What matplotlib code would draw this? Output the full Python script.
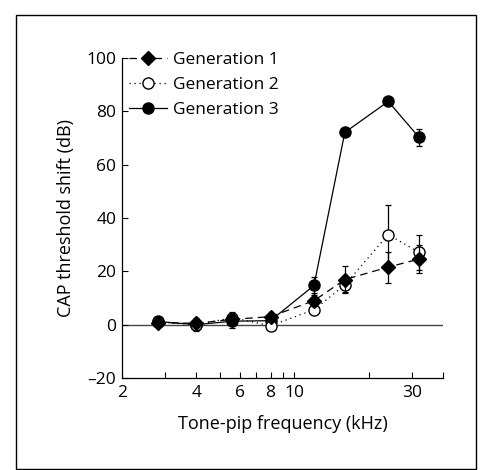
import matplotlib
matplotlib.use("Agg")
import matplotlib.pyplot as plt
from matplotlib.patches import Rectangle
from matplotlib.lines import Line2D
from matplotlib.ticker import FixedLocator, NullFormatter, FixedFormatter

plt.rcParams['font.family'] = ['Open Sans', 'DejaVu Sans']

freqs = [2.8, 4, 5.6, 8, 12, 16, 24, 32]
gen1 = [0.8, 0.5, 2.0, 3.0, 9.0, 16.9, 21.6, 24.6]
gen1_err = [1.0, 1.5, 1.5, 1.5, 2.0, 5.0, 5.8, 5.4]
gen2 = [1.0, 0.0, 2.6, -0.4, 5.6, 14.9, 33.8, 27.1]
gen2_err = [1.0, 1.5, 2.0, 1.5, 1.5, 2.5, 11.0, 6.6]
gen3 = [1.2, 0.0, 1.3, 1.5, 14.7, 72.1, 83.7, 70.2]
gen3_err = [1.0, 2.5, 2.5, 1.5, 3.0, 1.5, 1.0, 3.3]

labels = ["Generation 1", "Generation 2", "Generation 3"]
xticks_major = [2, 4, 6, 8, 10, 30]
xticks_minor = [3, 5, 7, 9, 20, 40]
yticks = [-20, 0, 20, 40, 60, 80, 100]

fig = plt.figure(figsize=(4.81, 4.70), dpi=100)
fig.patches.append(Rectangle((16/481, 1-469/470), 460/481, 454/470, transform=fig.transFigure,
                             fill=False, edgecolor='black', lw=1.0))
ax = fig.add_axes([122/481, 1-378/470, (443-122)/481, (378-58)/470])

ax.axhline(0, color='#444444', lw=1.0, zorder=1)

styles = [
    dict(fmt='D', ls=(0, (6, 4)), mfc='black', ms=7.5),
    dict(fmt='o', ls=(0, (1, 3)), mfc='white', ms=8),
    dict(fmt='o', ls='-', mfc='black', ms=8),
]
series = [(gen1, gen1_err), (gen2, gen2_err), (gen3, gen3_err)]
zs = [5, 4, 3]
for (vals, errs), st, z in zip(series, styles, zs):
    ax.errorbar(freqs, vals, yerr=errs, fmt=st['fmt'], ls=st['ls'], mfc=st['mfc'], mec='black',
                markersize=st['ms'], color='black', lw=0.9, capsize=2.5, elinewidth=0.9,
                capthick=0.9, zorder=z)

ax.set_xscale('log')
ax.set_xlim(2, 40)
ax.set_ylim(-20, 100)
ax.xaxis.set_major_locator(FixedLocator(xticks_major))
ax.xaxis.set_major_formatter(FixedFormatter([str(t) for t in xticks_major]))
ax.xaxis.set_minor_locator(FixedLocator(xticks_minor))
ax.xaxis.set_minor_formatter(NullFormatter())
ax.set_yticks(yticks)
ax.set_yticklabels(['\u201320' if t < 0 else str(t) for t in yticks])
ax.tick_params(which='both', direction='in', length=4, width=0.8, labelsize=12.5, pad=4)
ax.tick_params(axis='x', which='major', pad=5)
for s in ['top', 'right']:
    ax.spines[s].set_visible(False)
for s in ['left', 'bottom']:
    ax.spines[s].set_linewidth(0.9)

ax.set_xlabel('Tone-pip frequency (kHz)', fontsize=13, labelpad=10)
ax.set_ylabel('CAP threshold shift (dB)', fontsize=13, labelpad=8)

handles = [Line2D([], [], color='black', lw=0.9, ls=st['ls'], marker=st['fmt'], mfc=st['mfc'],
                  mec='black', markersize=st['ms']) for st in styles]
leg = ax.legend(handles, labels, loc='upper left', frameon=False,
                fontsize=12.5, handlelength=2.2, handletextpad=0.35, labelspacing=0.5,
                borderaxespad=0.0, bbox_to_anchor=(0.0, 1.04))

fig.savefig('out.png', dpi=100)
